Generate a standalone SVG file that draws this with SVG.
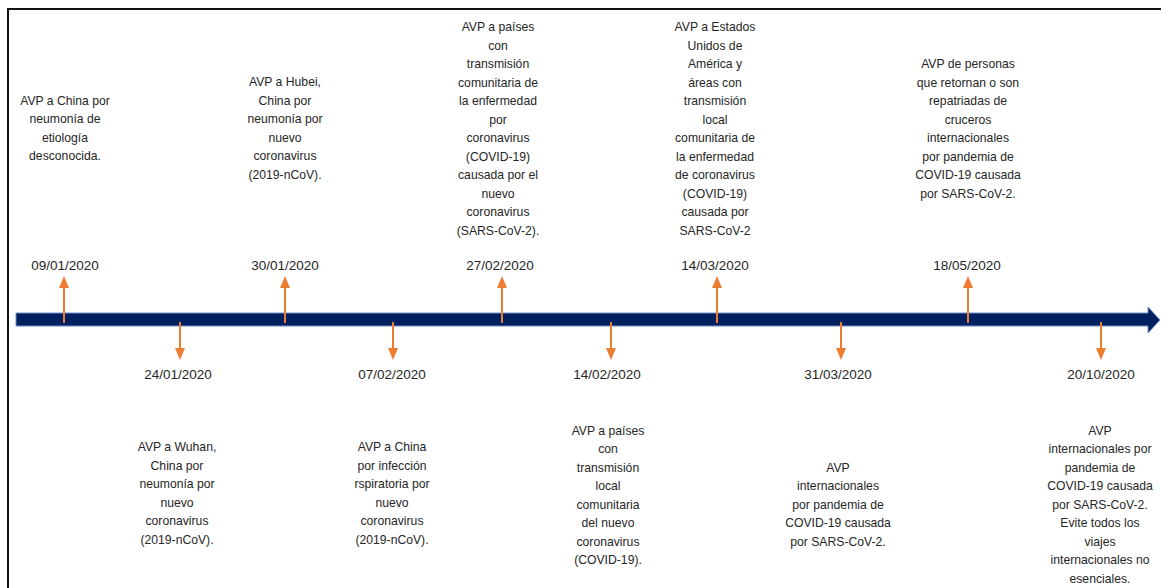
<svg xmlns="http://www.w3.org/2000/svg" width="1161" height="588" viewBox="0 0 1161 588">
<style>
.t{font-family:"Liberation Sans",Arial,sans-serif;font-size:12.2px;fill:#262626;text-anchor:middle;dominant-baseline:central}
.d{font-family:"Liberation Sans",Arial,sans-serif;font-size:13.5px;fill:#262626;text-anchor:middle;dominant-baseline:central}
.c{stroke:#ED7D31;stroke-width:2;fill:none;marker-end:url(#oa)}
</style>
<defs>
<marker id="oa" viewBox="0 0 12 10" refX="0" refY="5" markerWidth="12" markerHeight="10" markerUnits="userSpaceOnUse" orient="auto">
<path d="M0,0 L12,5 L0,10 z" fill="#ED7D31"/>
</marker>
</defs>
<rect width="1161" height="588" fill="#fff"/>
<g id="frame" stroke="#111" stroke-width="2" fill="none">
<line x1="7" y1="9" x2="1161" y2="9"/>
<line x1="8" y1="8" x2="8" y2="588"/>
</g>
<g id="timeline">
<polygon points="16,313 1148,313 1148,307 1160,320 1148,333 1148,326 16,326" fill="#002060" stroke="#6f8fc9" stroke-width="1"/>
</g>
<g id="connectors">
<line class="c" x1="64" y1="323" x2="64" y2="288"/>
<line class="c" x1="285" y1="323" x2="285" y2="288"/>
<line class="c" x1="502" y1="323" x2="502" y2="288"/>
<line class="c" x1="717" y1="323" x2="717" y2="288"/>
<line class="c" x1="968" y1="323" x2="968" y2="288"/>
<line class="c" x1="180" y1="322" x2="180" y2="348"/>
<line class="c" x1="393" y1="322" x2="393" y2="348"/>
<line class="c" x1="611" y1="322" x2="611" y2="348"/>
<line class="c" x1="841" y1="322" x2="841" y2="348"/>
<line class="c" x1="1101" y1="322" x2="1101" y2="348"/>
</g>
<g id="e0901">
<text class="d" x="65" y="265">09/01/2020</text>
<text class="t" x="65" y="100.5">AVP a China por</text>
<text class="t" x="65" y="119">neumonía de</text>
<text class="t" x="65" y="137.5">etiología</text>
<text class="t" x="65" y="156">desconocida.</text>
</g>
<g id="e3001">
<text class="d" x="285" y="265">30/01/2020</text>
<text class="t" x="285" y="82">AVP a Hubei,</text>
<text class="t" x="285" y="100.5">China por</text>
<text class="t" x="285" y="119">neumonía por</text>
<text class="t" x="285" y="137.5">nuevo</text>
<text class="t" x="285" y="156">coronavirus</text>
<text class="t" x="285" y="174.5">(2019-nCoV).</text>
</g>
<g id="e2702">
<text class="d" x="500" y="265">27/02/2020</text>
<text class="t" x="498" y="27">AVP a países</text>
<text class="t" x="498" y="45.5">con</text>
<text class="t" x="498" y="64">transmisión</text>
<text class="t" x="498" y="82.5">comunitaria de</text>
<text class="t" x="498" y="101">la enfermedad</text>
<text class="t" x="498" y="119.5">por</text>
<text class="t" x="498" y="138">coronavirus</text>
<text class="t" x="498" y="156.5">(COVID-19)</text>
<text class="t" x="498" y="175">causada por el</text>
<text class="t" x="498" y="193.5">nuevo</text>
<text class="t" x="498" y="212">coronavirus</text>
<text class="t" x="498" y="230.5">(SARS-CoV-2).</text>
</g>
<g id="e1403">
<text class="d" x="715" y="265">14/03/2020</text>
<text class="t" x="715" y="27">AVP a Estados</text>
<text class="t" x="715" y="45.5">Unidos de</text>
<text class="t" x="715" y="64">América y</text>
<text class="t" x="715" y="82.5">áreas con</text>
<text class="t" x="715" y="101">transmisión</text>
<text class="t" x="715" y="119.5">local</text>
<text class="t" x="715" y="138">comunitaria de</text>
<text class="t" x="715" y="156.5">la enfermedad</text>
<text class="t" x="715" y="175">de coronavirus</text>
<text class="t" x="715" y="193.5">(COVID-19)</text>
<text class="t" x="715" y="212">causada por</text>
<text class="t" x="715" y="230.5">SARS-CoV-2</text>
</g>
<g id="e1805">
<text class="d" x="967" y="265">18/05/2020</text>
<text class="t" x="968" y="64">AVP de personas</text>
<text class="t" x="968" y="82.5">que retornan o son</text>
<text class="t" x="968" y="101">repatriadas de</text>
<text class="t" x="968" y="119.5">cruceros</text>
<text class="t" x="968" y="138">internacionales</text>
<text class="t" x="968" y="156.5">por pandemia de</text>
<text class="t" x="968" y="175">COVID-19 causada</text>
<text class="t" x="968" y="193.5">por SARS-CoV-2.</text>
</g>
<g id="e2401">
<text class="d" x="178" y="374">24/01/2020</text>
<text class="t" x="177" y="447">AVP a Wuhan,</text>
<text class="t" x="177" y="465.5">China por</text>
<text class="t" x="177" y="484">neumonía por</text>
<text class="t" x="177" y="502.5">nuevo</text>
<text class="t" x="177" y="521">coronavirus</text>
<text class="t" x="177" y="539.5">(2019-nCoV).</text>
</g>
<g id="e0702">
<text class="d" x="392" y="374">07/02/2020</text>
<text class="t" x="392" y="447">AVP a China</text>
<text class="t" x="392" y="465.5">por infección</text>
<text class="t" x="392" y="484">rspiratoria por</text>
<text class="t" x="392" y="502.5">nuevo</text>
<text class="t" x="392" y="521">coronavirus</text>
<text class="t" x="392" y="539.5">(2019-nCoV).</text>
</g>
<g id="e1402">
<text class="d" x="607" y="374">14/02/2020</text>
<text class="t" x="608" y="430.5">AVP a países</text>
<text class="t" x="608" y="449">con</text>
<text class="t" x="608" y="467.5">transmisión</text>
<text class="t" x="608" y="486">local</text>
<text class="t" x="608" y="504.5">comunitaria</text>
<text class="t" x="608" y="523">del nuevo</text>
<text class="t" x="608" y="541.5">coronavirus</text>
<text class="t" x="608" y="560">(COVID-19).</text>
</g>
<g id="e3103">
<text class="d" x="838" y="374">31/03/2020</text>
<text class="t" x="838" y="467.5">AVP</text>
<text class="t" x="838" y="486">internacionales</text>
<text class="t" x="838" y="504.5">por pandemia de</text>
<text class="t" x="838" y="523">COVID-19 causada</text>
<text class="t" x="838" y="541.5">por SARS-CoV-2.</text>
</g>
<g id="e2010">
<text class="d" x="1101" y="374">20/10/2020</text>
<text class="t" x="1100" y="430.5">AVP</text>
<text class="t" x="1100" y="449">internacionales por</text>
<text class="t" x="1100" y="467.5">pandemia de</text>
<text class="t" x="1100" y="486">COVID-19 causada</text>
<text class="t" x="1100" y="504.5">por SARS-CoV-2.</text>
<text class="t" x="1100" y="523">Evite todos los</text>
<text class="t" x="1100" y="541.5">viajes</text>
<text class="t" x="1100" y="560">internacionales no</text>
<text class="t" x="1100" y="578.5">esenciales.</text>
</g>
</svg>
